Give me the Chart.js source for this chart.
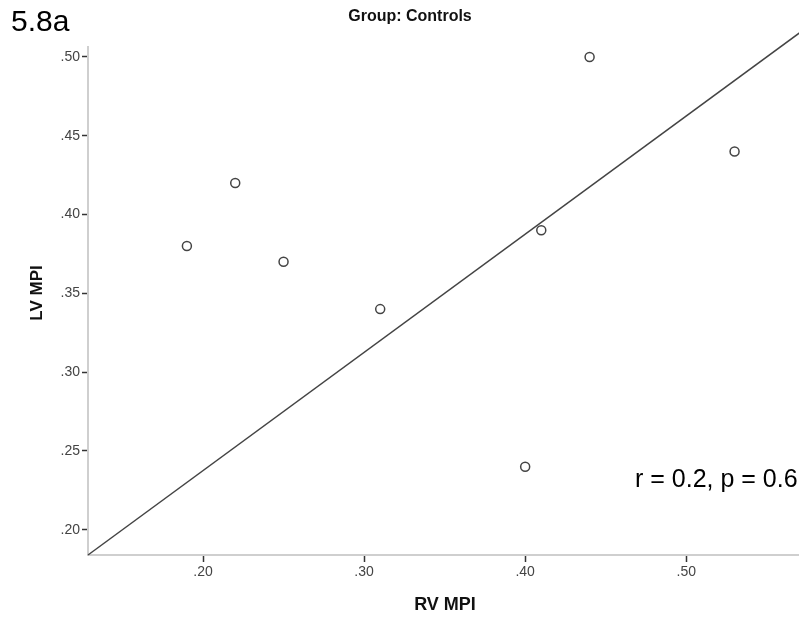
<!DOCTYPE html>
<html lang="en">
<head>
  <meta charset="UTF-8" />
  <title>Group: Controls</title>
  <script src="https://cdn.jsdelivr.net/npm/chart.js"></script>
  <style>
    body {
      margin: 0;
      padding: 0;
      background: #fff;
    }
    #wrap {
      position: relative;
      width: 799px;
      height: 618px;
    }
  </style>
</head>
<body>
  <div id="wrap">
    <canvas id="scatter" width="799" height="618"></canvas>
  </div>

  <script>
    // RV MPI vs LV MPI, control group
    const rvMpi = [0.19, 0.22, 0.25, 0.31, 0.40, 0.41, 0.44, 0.53];
    const lvMpi = [0.38, 0.42, 0.37, 0.34, 0.24, 0.39, 0.50, 0.44];

    // fitted line, two end points
    const lineX = [0.1286, 0.60];
    const lineY = [0.184, 0.5375];

    const xTicks = [0.20, 0.30, 0.40, 0.50];
    const yTicks = [0.20, 0.25, 0.30, 0.35, 0.40, 0.45, 0.50];

    const panelLabel = '5.8a';
    const chartTitle = 'Group: Controls';
    const xTitle = 'RV MPI';
    const yTitle = 'LV MPI';
    const statsText = 'r = 0.2, p = 0.6';

    const fmt = v => v.toFixed(2).replace(/^0/, '');

    const textPlugin = {
      id: 'textPlugin',
      afterDraw(chart) {
        const ctx = chart.ctx;
        ctx.save();
        ctx.fillStyle = '#000';

        ctx.font = '30px "Liberation Sans", Arial, sans-serif';
        ctx.textAlign = 'left';
        ctx.textBaseline = 'alphabetic';
        ctx.fillText(panelLabel, 11, 31);

        ctx.font = 'bold 16px "Liberation Sans", Arial, sans-serif';
        ctx.textAlign = 'center';
        ctx.textBaseline = 'middle';
        ctx.fillStyle = '#111';
        ctx.fillText(chartTitle, 410, 17);

        ctx.font = 'bold 18px "Liberation Sans", Arial, sans-serif';
        ctx.fillText(xTitle, 445, 605);

        ctx.save();
        ctx.translate(37, 293);
        ctx.rotate(-Math.PI / 2);
        ctx.font = 'bold 17px "Liberation Sans", Arial, sans-serif';
        ctx.fillText(yTitle, 0, 0);
        ctx.restore();

        ctx.font = '25px "Liberation Sans", Arial, sans-serif';
        ctx.textAlign = 'left';
        ctx.fillStyle = '#000';
        ctx.fillText(statsText, 635, 480);
        ctx.restore();
      }
    };

    const ctx = document.getElementById('scatter').getContext('2d');
    new Chart(ctx, {
      type: 'scatter',
      data: {
        datasets: [
          {
            label: 'Controls',
            data: rvMpi.map((x, i) => ({ x: x, y: lvMpi[i] })),
            pointStyle: 'circle',
            pointRadius: 4.5,
            pointHoverRadius: 4.5,
            pointBorderWidth: 1.5,
            pointBorderColor: '#444',
            pointBackgroundColor: '#fff',
            order: 0
          },
          {
            label: 'Fit',
            type: 'line',
            data: lineX.map((x, i) => ({ x: x, y: lineY[i] })),
            borderColor: '#444',
            borderWidth: 1.5,
            pointRadius: 0,
            fill: false,
            clip: false,
            order: 1
          }
        ]
      },
      options: {
        responsive: false,
        animation: false,
        layout: {
          autoPadding: false,
          padding: { top: 47, right: 0, left: 0, bottom: 0 }
        },
        plugins: {
          legend: { display: false },
          tooltip: { enabled: false },
          title: { display: false }
        },
        scales: {
          x: {
            type: 'linear',
            min: 0.1286,
            max: 0.570,
            afterFit: s => {
              s.height = 63;
              s.paddingLeft = 0;
              s.paddingRight = 0;
            },
            afterBuildTicks: s => { s.ticks = xTicks.map(v => ({ value: v })); },
            border: { display: true, color: '#cfcfcf', width: 2 },
            grid: {
              drawOnChartArea: false,
              drawTicks: true,
              tickLength: 7,
              tickColor: '#333',
              tickWidth: 1.5
            },
            ticks: {
              callback: v => fmt(v),
              color: '#444',
              padding: 2,
              maxRotation: 0,
              font: { size: 14, family: '"Liberation Sans", Arial, sans-serif' }
            }
          },
          y: {
            type: 'linear',
            min: 0.184,
            max: 0.5063,
            afterFit: s => {
              s.width = 88;
              s.paddingTop = 0;
              s.paddingBottom = 0;
            },
            afterBuildTicks: s => { s.ticks = yTicks.map(v => ({ value: v })); },
            border: { display: true, color: '#cfcfcf', width: 2 },
            grid: {
              drawOnChartArea: false,
              drawTicks: true,
              tickLength: 6,
              tickColor: '#333',
              tickWidth: 1.5
            },
            ticks: {
              callback: v => fmt(v),
              color: '#444',
              padding: 2,
              font: { size: 14, family: '"Liberation Sans", Arial, sans-serif' }
            }
          }
        }
      },
      plugins: [textPlugin]
    });
  </script>
</body>
</html>
